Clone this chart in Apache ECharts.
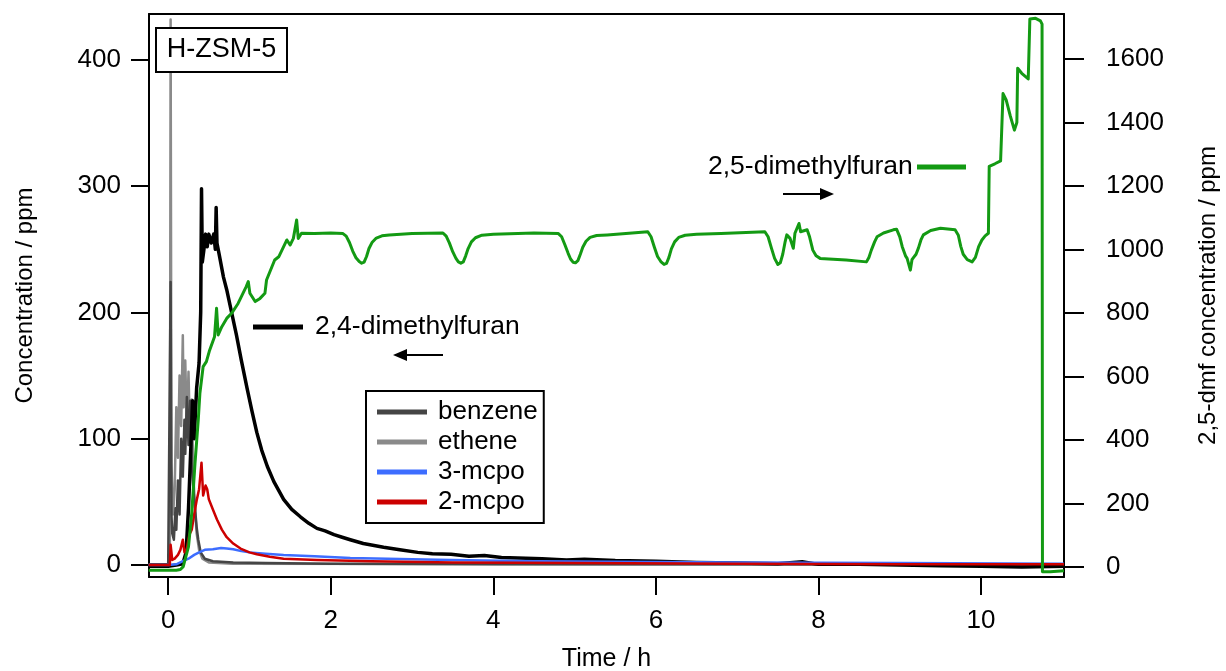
<!DOCTYPE html>
<html>
<head>
<meta charset="utf-8">
<script src="https://cdn.jsdelivr.net/npm/echarts@6/dist/echarts.min.js"></script>
<style>
html,body{margin:0;padding:0;background:#fff;}
#chart{width:1226px;height:671px;}
</style>
</head>
<body>
<div id="chart"></div>
<script>
// ---- data (time in h, concentration in ppm) ----
const xTicks = [0, 2, 4, 6, 8, 10];
const yLeftTicks = [0, 100, 200, 300, 400];
const yRightTicks = [0, 200, 400, 600, 800, 1000, 1200, 1400, 1600];

const benzene = [[-0.24,0.5],[0.0,0.5],[0.02,0.5],[0.03,224],[0.04,40],[0.05,25],[0.07,20],[0.09,45],[0.10,28],[0.12,67],[0.14,40],[0.16,100],[0.18,70],[0.20,115],[0.21,88],[0.23,133],[0.25,95],[0.27,130],[0.29,80],[0.31,60],[0.33,45],[0.35,30],[0.37,20],[0.40,10],[0.45,5],[0.55,3],[0.8,2],[1.2,1.5],[2,1],[4,0.5],[11.02,0.3]];

const ethene = [[-0.24,0],[0.02,0],[0.03,432],[0.04,80],[0.06,40],[0.08,60],[0.10,125],[0.12,85],[0.14,150],[0.16,110],[0.18,182],[0.19,125],[0.21,162],[0.23,105],[0.25,153],[0.27,95],[0.29,131],[0.31,70],[0.33,45],[0.35,25],[0.38,12],[0.42,5],[0.5,2],[0.8,1],[11.02,0.3]];

const mcpo3 = [[-0.24,0],[0.0,0],[0.1,0.5],[0.18,3],[0.25,5],[0.32,8],[0.38,10],[0.45,12],[0.55,12.5],[0.65,13.5],[0.72,13],[0.8,12.5],[0.9,11],[1.0,10],[1.2,9],[1.42,8],[1.8,7],[2.24,5.5],[3,4.5],[3.48,4],[4.5,3],[5.5,2.5],[7,2],[9,1.5],[11.02,1]];

const mcpo2 = [[-0.24,0],[0.02,0],[0.03,16],[0.05,4],[0.08,5],[0.12,8],[0.15,12],[0.18,20],[0.20,10],[0.23,13],[0.26,24],[0.29,28],[0.32,40],[0.35,51],[0.38,60],[0.41,81],[0.43,55],[0.46,63],[0.48,60],[0.50,52],[0.55,44],[0.60,36],[0.66,28],[0.72,22],[0.80,17],[0.89,13],[1.0,10],[1.09,8.5],[1.25,6.5],[1.42,5],[1.83,4],[2.5,3],[3.5,2],[5,1.5],[7,1],[9,0.5],[11.02,0.5]];

const dmf24 = [[-0.24,-1],[0.0,-1],[0.1,0],[0.18,1],[0.22,10],[0.25,45],[0.28,95],[0.30,130],[0.32,100],[0.35,140],[0.38,160],[0.40,200],[0.41,298],[0.42,240],[0.44,250],[0.46,262],[0.48,252],[0.50,262],[0.53,255],[0.56,262],[0.58,250],[0.59,283],[0.60,255],[0.63,245],[0.68,228],[0.72,218],[0.78,200],[0.84,182],[0.90,162],[0.97,140],[1.03,122],[1.09,105],[1.15,91],[1.22,78],[1.30,66],[1.42,52],[1.52,44],[1.63,38],[1.73,33],[1.83,29],[1.93,27],[2.04,24],[2.14,22],[2.24,20],[2.4,17],[2.65,14],[2.85,12],[3.07,10],[3.25,9],[3.48,8.5],[3.7,7],[3.89,7.5],[4.1,6],[4.3,5.5],[4.6,5],[4.9,4],[5.12,4.5],[5.5,3.5],[6.0,3],[6.5,2],[7.0,1.5],[7.5,1],[7.8,2.5],[8.0,0.5],[8.5,0.5],[9.0,0],[9.5,-0.5],[10.0,-1],[10.5,-1.5],[11.02,-1]];

const dmf25 = [[-0.24,-10],[0.1,-10],[0.15,-8],[0.185,1],[0.25,64],[0.29,170],[0.33,327],[0.37,463],[0.39,547],[0.43,631],[0.47,647],[0.51,683],[0.57,725],[0.595,815],[0.615,731],[0.66,757],[0.72,783],[0.78,799],[0.86,830],[0.96,883],[0.985,899],[1.005,862],[1.07,836],[1.13,846],[1.19,862],[1.21,904],[1.31,967],[1.36,977],[1.46,1030],[1.50,1014],[1.54,1035],[1.58,1093],[1.60,1035],[1.64,1051],[1.8,1050],[2.0,1052],
  [2.15,1050],[2.19,1042],[2.23,1022],[2.27,995],[2.31,974],[2.35,962],[2.38,957],[2.41,960],[2.44,978],[2.47,1003],[2.51,1023],[2.56,1036],[2.63,1043],[2.72,1046],[3.0,1050],
  [3.38,1052],[3.42,1042],[3.46,1020],[3.50,993],[3.54,972],[3.57,961],[3.60,957],[3.63,961],[3.66,980],[3.69,1003],[3.73,1024],[3.78,1037],[3.86,1045],[4.0,1048],[4.5,1052],
  [4.8,1050],[4.84,1040],[4.88,1015],[4.92,988],[4.95,970],[4.98,960],[5.01,958],[5.04,965],[5.07,985],[5.10,1007],[5.14,1026],[5.19,1038],[5.27,1044],[5.4,1046],
  [5.9,1056],[5.94,1040],[5.98,1008],[6.02,978],[6.06,962],[6.10,953],[6.13,956],[6.16,975],[6.19,1002],[6.23,1024],[6.28,1038],[6.36,1045],[6.5,1048],[6.8,1050],
  [7.34,1056],[7.38,1040],[7.42,1005],[7.46,972],[7.50,953],[7.53,958],[7.56,985],[7.59,1025],[7.61,1046],[7.65,1035],[7.69,1004],[7.71,1051],[7.76,1082],[7.78,1056],[7.86,1062],[7.89,1040],[7.93,998],[7.97,980],[8.02,972],[8.34,967],[8.59,961],[8.62,975],[8.65,998],[8.69,1024],[8.72,1040],[8.8,1052],[8.92,1062],[8.96,1064],[9.0,1040],[9.03,1009],[9.07,980],[9.09,972],[9.13,935],[9.15,968],[9.17,975],[9.20,985],[9.23,1005],[9.26,1030],[9.29,1046],[9.38,1060],[9.5,1067],[9.68,1062],[9.72,1045],[9.75,1010],[9.78,985],[9.83,968],[9.89,961],[9.93,975],[9.97,1009],[10.01,1030],[10.05,1043],[10.09,1051],
  [10.10,1262],[10.17,1270],[10.24,1279],[10.27,1491],[10.31,1470],[10.36,1420],[10.41,1376],[10.44,1400],[10.45,1571],[10.50,1555],[10.58,1537],[10.60,1726],[10.67,1728],[10.73,1720],[10.75,1710],[10.755,-15],[10.85,-15],[11.02,-12]];

const FONT = '"Liberation Sans", Arial, sans-serif';
const chart = echarts.init(document.getElementById('chart'), null, {renderer: 'canvas'});

function lineSeries(name, data, color, width, yIndex) {
  return {
    name: name, type: 'line', data: data, yAxisIndex: yIndex,
    showSymbol: false, symbol: 'none', animation: false,
    lineStyle: {color: color, width: width, join: 'round'},
    itemStyle: {color: color}
  };
}
const plain = function (v) { return String(v); };

const option = {
  backgroundColor: '#fff',
  animation: false,
  grid: {left: 149, right: 162, top: 14, bottom: 94, containLabel: false, outerBoundsMode: 'none'},
  xAxis: [{
    type: 'value', min: -0.236, max: 11.02, position: 'bottom',
    name: 'Time / h', nameLocation: 'middle', nameGap: 70,
    nameTextStyle: {fontFamily: FONT, fontSize: 25, color: '#000'},
    axisLine: {show: true, onZero: false, lineStyle: {color: '#000', width: 2}},
    axisTick: {show: true, inside: false, length: 18, lineStyle: {color: '#000', width: 2}, customValues: xTicks},
    axisLabel: {fontFamily: FONT, fontSize: 26, color: '#000', margin: 31, customValues: xTicks, formatter: plain},
    splitLine: {show: false}
  }, {
    type: 'value', min: -0.236, max: 11.02, position: 'top',
    axisLine: {show: true, onZero: false, lineStyle: {color: '#000', width: 2}},
    axisTick: {show: false}, axisLabel: {show: false}, splitLine: {show: false}
  }],
  yAxis: [{
    type: 'value', min: -9.5, max: 436.3, position: 'left',
    name: 'Concentration / ppm', nameLocation: 'middle', nameGap: 112,
    nameTextStyle: {fontFamily: FONT, fontSize: 24, color: '#000'},
    axisLine: {show: true, onZero: false, lineStyle: {color: '#000', width: 2}},
    axisTick: {show: true, length: 18, lineStyle: {color: '#000', width: 2}, customValues: yLeftTicks},
    axisLabel: {fontFamily: FONT, fontSize: 26, color: '#000', margin: 28, customValues: yLeftTicks, formatter: plain},
    splitLine: {show: false}
  }, {
    type: 'value', min: -31.5, max: 1741.7, position: 'right', alignTicks: false,
    name: '2,5-dmf concentration / ppm', nameLocation: 'middle', nameGap: 132,
    nameTextStyle: {fontFamily: FONT, fontSize: 24, color: '#000'},
    axisLine: {show: true, onZero: false, lineStyle: {color: '#000', width: 2}},
    axisTick: {show: true, length: 20, lineStyle: {color: '#000', width: 2}, customValues: yRightTicks},
    axisLabel: {fontFamily: FONT, fontSize: 26, color: '#000', margin: 42, customValues: yRightTicks, formatter: plain},
    splitLine: {show: false}
  }],
  legend: {
    show: true, orient: 'vertical', left: 366, top: 391,
    data: ['benzene', 'ethene', '3-mcpo', '2-mcpo'],
    icon: 'rect', itemWidth: 50, itemHeight: 5, itemGap: 0,
    padding: [6, 6, 6, 11],
    borderColor: '#000', borderWidth: 2, backgroundColor: '#fff',
    textStyle: {fontFamily: FONT, fontSize: 26, color: '#000', lineHeight: 30, padding: [0, 0, 0, 6]},
    selectedMode: false, z: 10
  },
  series: [
    lineSeries('ethene', ethene, '#8a8a8a', 2.5, 0),
    lineSeries('benzene', benzene, '#454545', 2.5, 0),
    lineSeries('2,4-dimethylfuran', dmf24, '#000000', 3.5, 0),
    lineSeries('3-mcpo', mcpo3, '#3d6dff', 2.5, 0),
    lineSeries('2-mcpo', mcpo2, '#cc0000', 2.5, 0),
    lineSeries('2,5-dimethylfuran', dmf25, '#139a13', 3, 1)
  ],
  graphic: [
    {type: 'rect', z: 100, shape: {x: 156, y: 28, width: 131, height: 44},
     style: {fill: '#fff', stroke: '#000', lineWidth: 2}},
    {type: 'text', z: 101, style: {text: 'H-ZSM-5', x: 221.5, y: 50, align: 'center', verticalAlign: 'middle',
     font: '27px ' + FONT, fill: '#000'}},
    {type: 'rect', z: 100, shape: {x: 253, y: 324.5, width: 50, height: 5}, style: {fill: '#000'}},
    {type: 'text', z: 101, style: {text: '2,4-dimethylfuran', x: 315, y: 327, align: 'left', verticalAlign: 'middle',
     font: '26.5px ' + FONT, fill: '#000'}},
    {type: 'line', z: 100, shape: {x1: 443, y1: 355, x2: 404, y2: 355}, style: {stroke: '#000', lineWidth: 2}},
    {type: 'polygon', z: 100, shape: {points: [[393, 355], [407, 349], [407, 361]]}, style: {fill: '#000'}},
    {type: 'text', z: 101, style: {text: '2,5-dimethylfuran', x: 708, y: 167, align: 'left', verticalAlign: 'middle',
     font: '26.5px ' + FONT, fill: '#000'}},
    {type: 'rect', z: 100, shape: {x: 917, y: 164.5, width: 49, height: 5}, style: {fill: '#139a13'}},
    {type: 'line', z: 100, shape: {x1: 783, y1: 194, x2: 822, y2: 194}, style: {stroke: '#000', lineWidth: 2}},
    {type: 'polygon', z: 100, shape: {points: [[834, 194], [820, 188], [820, 200]]}, style: {fill: '#000'}}
  ]
};
chart.setOption(option);
</script>
</body>
</html>
